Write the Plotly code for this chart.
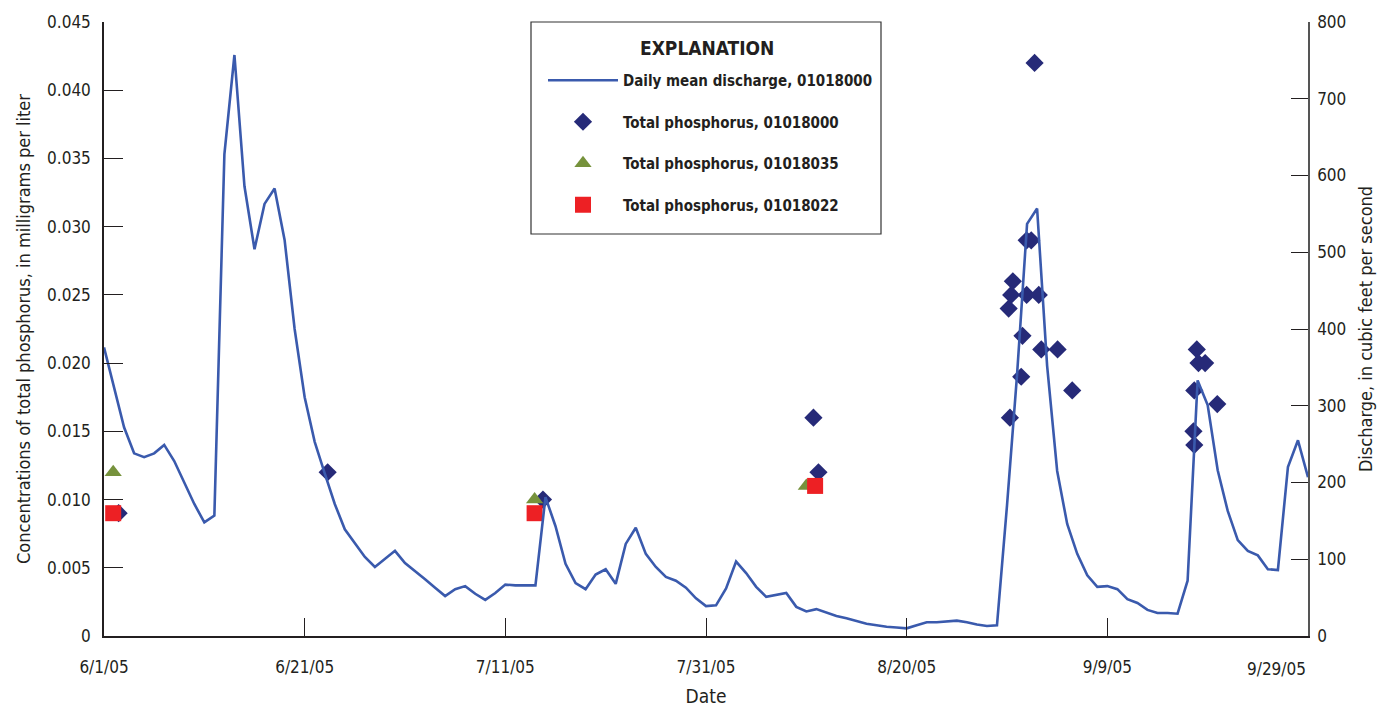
import pandas as pd
import plotly.graph_objects as go

# ---------------- data ----------------
discharge_start = "2005-06-01"
discharge_cfs = [
    # June
    376, 323, 272, 238, 233, 238, 249, 228, 199, 172,
    148, 157, 628, 757, 586, 504, 563, 583, 516, 400,
    311, 253, 212, 172, 139, 121, 103, 90, 100, 111,
    # July
    95, 85, 74, 63, 52, 61, 65, 55, 47, 56,
    67, 66, 66, 66, 181, 143, 94, 69, 61, 80,
    87, 68, 120, 141, 107, 90, 77, 72, 63, 49,
    39,
    # August
    40, 62, 97, 82, 64, 51, 53, 56, 38, 32,
    35, 30, 26, 23, 19, 16, 14, 12, 11, 10,
    14, 18, 18, 19, 20, 18, 15, 13, 14, 170,
    340,
    # September
    537, 557, 352, 215, 146, 107, 79, 64, 65, 61,
    48, 43, 34, 30, 30, 29, 72, 333, 301, 216,
    163, 125, 111, 105, 87, 86, 220, 255, 207,
]
discharge_dates = pd.date_range(discharge_start, periods=len(discharge_cfs), freq="D")

tp_01018000_dates = [
    "2005-06-02 11:00", "2005-06-23 07:00", "2005-07-14 18:00",
    "2005-08-10 17:00", "2005-08-11 05:00",
    "2005-08-30 04:00", "2005-08-30 07:00", "2005-08-30 10:00", "2005-08-30 14:00",
    "2005-08-31 10:00", "2005-08-31 13:00", "2005-08-31 23:00", "2005-08-31 23:00",
    "2005-09-01 10:00", "2005-09-01 18:00", "2005-09-02 04:00", "2005-09-02 10:00",
    "2005-09-04 01:00", "2005-09-05 12:00",
    "2005-09-17 14:00", "2005-09-17 16:00", "2005-09-17 16:00", "2005-09-17 22:00",
    "2005-09-18 02:00", "2005-09-18 18:00", "2005-09-19 23:00",
]
tp_01018000_values = [
    0.009, 0.012, 0.010,
    0.016, 0.012,
    0.024, 0.016, 0.025, 0.026,
    0.019, 0.022, 0.025, 0.029,
    0.029, 0.042, 0.025, 0.021,
    0.021, 0.018,
    0.015, 0.014, 0.018, 0.021,
    0.020, 0.020, 0.017,
]

tp_01018035_dates = ["2005-06-01 22:00", "2005-07-13 22:00", "2005-08-10 00:00"]
tp_01018035_values = [0.012, 0.010, 0.011]

tp_01018022_dates = ["2005-06-01 22:00", "2005-07-13 22:00", "2005-08-10 21:00"]
tp_01018022_values = [0.009, 0.009, 0.011]

x_tick_dates = ["2005-06-01", "2005-06-21", "2005-07-11", "2005-07-31",
                "2005-08-20", "2005-09-09", "2005-09-29"]
x_tick_labels = ["6/1/05", "6/21/05", "7/11/05", "7/31/05", "8/20/05", "9/9/05", "9/29/05"]

y_tick_values = [0, 0.005, 0.010, 0.015, 0.020, 0.025, 0.030, 0.035, 0.040, 0.045]
y_tick_labels = ["0", "0.005", "0.010", "0.015", "0.020", "0.025",
                 "0.030", "0.035", "0.040", "0.045"]
y2_tick_values = [0, 100, 200, 300, 400, 500, 600, 700, 800]

# ---------------- styling ----------------
FONT = "DejaVu Sans Condensed, Liberation Sans Narrow, sans-serif"
TXT = "#231f20"
LINE_BLUE = "#3a5aad"
NAVY = "#262a78"
GREEN = "#76923c"
RED = "#ed2024"

# the page body adds an 8 px margin, so the figure is sized/offset to compensate
PAGE_OFF = 8
W, H = 1387 - PAGE_OFF, 707 - PAGE_OFF
ML, MR, MT, MB = 104 - PAGE_OFF, 79, 22 - PAGE_OFF, 71
PW, PH = W - ML - MR, H - MT - MB


def px_x(page_px):
    return (page_px - PAGE_OFF - ML) / PW


def px_y(page_py):
    return 1 - (page_py - PAGE_OFF - MT) / PH


fig = go.Figure()

fig.add_trace(go.Scatter(
    x=discharge_dates, y=discharge_cfs, yaxis="y2", mode="lines",
    name="Daily mean discharge, 01018000", legendgroup="a",
    line=dict(color=LINE_BLUE, width=2.6),
))
fig.add_trace(go.Scatter(
    x=pd.to_datetime(tp_01018000_dates), y=tp_01018000_values, mode="markers",
    name="Total phosphorus, 01018000", legendgroup="b",
    marker=dict(symbol="diamond", size=14, color=NAVY), cliponaxis=False,
))
fig.add_trace(go.Scatter(
    x=pd.to_datetime(tp_01018035_dates), y=tp_01018035_values, mode="markers",
    name="Total phosphorus, 01018035", legendgroup="c",
    marker=dict(symbol="triangle-up", size=15, color=GREEN), cliponaxis=False,
))
fig.add_trace(go.Scatter(
    x=pd.to_datetime(tp_01018022_dates), y=tp_01018022_values, mode="markers",
    name="Total phosphorus, 01018022", legendgroup="d",
    marker=dict(symbol="square", size=16, color=RED), cliponaxis=False,
))

fig.update_layout(
    width=W, height=H,
    margin=dict(l=ML, r=MR, t=MT, b=MB, autoexpand=False),
    paper_bgcolor="white", plot_bgcolor="white",
    font=dict(family=FONT, size=17, color=TXT),
    showlegend=True,
    legend=dict(
        x=px_x(543), y=px_y(64), xanchor="left", yanchor="top",
        bgcolor="rgba(0,0,0,0)", borderwidth=0,
        font=dict(family=FONT, size=15, color=TXT, weight="bold"),
        itemwidth=70, tracegroupgap=19, traceorder="grouped",
    ),
    xaxis=dict(
        type="date", range=["2005-06-01", "2005-09-29"],
        tickmode="array", tickvals=x_tick_dates,
        ticktext=x_tick_labels[:-1] + [""],
        ticks="inside", ticklen=18, tickwidth=1.3, tickcolor="#231f20",
        showline=True, linecolor="#231f20", linewidth=1.5,
        showgrid=False, zeroline=False, automargin=False,
        tickfont=dict(family=FONT, size=17, color=TXT),
        ticklabelstandoff=15,
        title=dict(text="Date", font=dict(family=FONT, size=19, color=TXT), standoff=17),
    ),
    yaxis=dict(
        range=[0, 0.045], tickmode="array", tickvals=y_tick_values, ticktext=y_tick_labels,
        ticks="inside", ticklen=19, tickwidth=1.3, tickcolor="#231f20",
        showline=True, linecolor="#231f20", linewidth=1.5,
        showgrid=False, zeroline=False, automargin=False,
        tickfont=dict(family=FONT, size=17, color=TXT),
        ticklabelstandoff=8,
        title=dict(text="Concentrations of total phosphorus, in milligrams per liter",
                   font=dict(family=FONT, size=18, color=TXT), standoff=12),
    ),
    yaxis2=dict(
        overlaying="y", side="right", anchor="x",
        range=[0, 800], tickmode="array", tickvals=y2_tick_values,
        ticks="inside", ticklen=17, tickwidth=1.3, tickcolor="#231f20",
        showline=True, linecolor="#555555", linewidth=1.5,
        showgrid=False, zeroline=False, automargin=False,
        tickfont=dict(family=FONT, size=17, color=TXT),
        ticklabelstandoff=4,
        title=dict(text="Discharge, in cubic feet per second",
                   font=dict(family=FONT, size=18, color=TXT), standoff=14),
    ),
)

# Explanation box
fig.add_shape(
    type="rect", xref="paper", yref="paper", layer="above",
    x0=px_x(531), x1=px_x(881), y0=px_y(234), y1=px_y(22),
    line=dict(color="#333333", width=1.2), fillcolor="white",
)
fig.add_annotation(
    x=px_x(707), y=px_y(48), xref="paper", yref="paper",
    xanchor="center", yanchor="middle", showarrow=False,
    text="<b>EXPLANATION</b>", font=dict(family=FONT, size=19, color=TXT),
)

fig.add_annotation(
    x=x_tick_dates[-1], y=0, xref="x", yref="paper",
    xanchor="right", yanchor="top", yshift=-21, showarrow=False,
    text=x_tick_labels[-1], font=dict(family=FONT, size=17, color=TXT),
)

fig.write_html("out.html")
